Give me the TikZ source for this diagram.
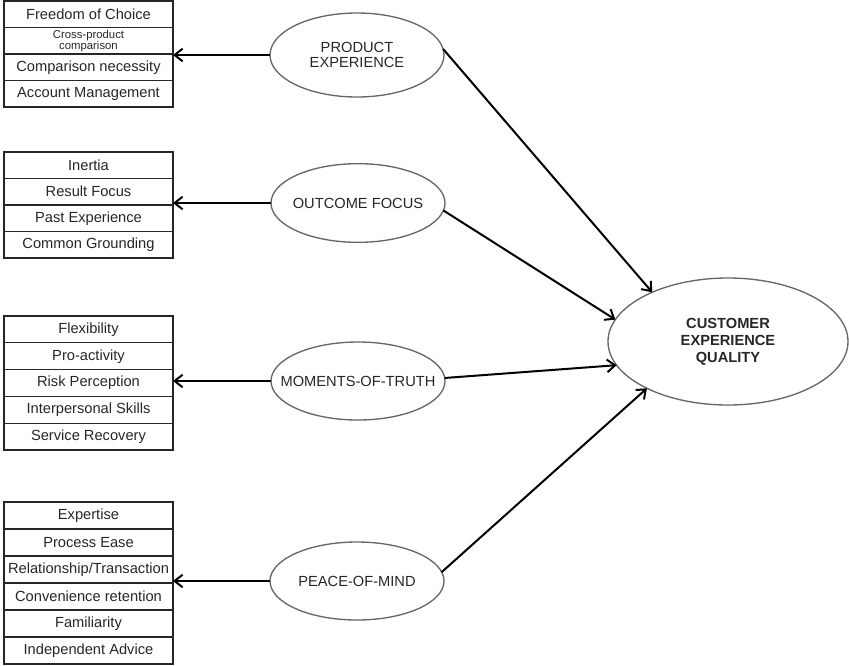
\documentclass[tikz,border=0pt]{standalone}
\usepackage{fontspec}
\setmainfont{Liberation Sans}
\usetikzlibrary{shapes.geometric,arrows.meta}

\begin{document}
\begin{tikzpicture}[x=0.75pt, y=-0.75pt,
  item/.style={draw=black!85, line width=1pt, rectangle, minimum width=126.75pt, minimum height=19.875pt, inner sep=0pt, outer sep=0pt, align=center, text=black!85, font=\fontsize{11}{12}\selectfont},
  factor/.style={draw=black!60, line width=1pt, ellipse, minimum width=130.5pt, minimum height=59pt, inner sep=0pt, outer sep=0pt},
  ftext/.style={align=center, text=black!85, font=\fontsize{11}{11.5}\selectfont},
  link/.style={-{Straight Barb[length=6pt,width=9.5pt]}, line width=1.5pt}]
\useasboundingbox (0,0) rectangle (849,665);
% left boxes
\node[item] (pe1) at (88.5, 14.25){Freedom of Choice};
\node[item, font=\fontsize{8.5}{8}\selectfont] (pe2) at (88.5, 40.75){Cross-product\\comparison};
\node[item] (pe3) at (88.5, 67.25){Comparison necessity};
\node[item] (pe4) at (88.5, 93.75){Account Management};
\node[item] (of1) at (88.5, 165.25){Inertia};
\node[item] (of2) at (88.5, 191.75){Result Focus};
\node[item] (of3) at (88.5, 218.25){Past Experience};
\node[item] (of4) at (88.5, 244.75){Common Grounding};
\node[item, minimum height=20.1pt] (mt1) at (88.5, 329.4){Flexibility};
\node[item, minimum height=20.1pt] (mt2) at (88.5, 356.2){Pro-activity};
\node[item, minimum height=20.1pt] (mt3) at (88.5, 383.0){Risk Perception};
\node[item, minimum height=20.1pt] (mt4) at (88.5, 409.8){Interpersonal Skills};
\node[item, minimum height=20.1pt] (mt5) at (88.5, 436.6){Service Recovery};
\node[item, minimum height=20.25pt] (pm1) at (88.5, 515.5){Expertise};
\node[item, minimum height=20.25pt] (pm2) at (88.5, 542.5){Process Ease};
\node[item, minimum height=20.25pt] (pm3) at (88.5, 569.5){Relationship/Transaction};
\node[item, minimum height=20.25pt] (pm4) at (88.5, 596.5){Convenience retention};
\node[item, minimum height=20.25pt] (pm5) at (88.5, 623.5){Familiarity};
\node[item, minimum height=20.25pt] (pm6) at (88.5, 650.5){Independent Advice};
% dimensions
\node[factor, minimum height=63pt, label={[ftext]center:PRODUCT\\EXPERIENCE}] (prodexp) at (357, 55){};
\node[factor, label={[ftext]center:OUTCOME FOCUS}] (outfocus) at (358, 203){};
\node[factor, minimum height=58.5pt, label={[ftext]center:MOMENTS-OF-TRUTH}] (moments) at (358, 381){};
\node[factor, minimum height=58.5pt, label={[ftext]center:PEACE-OF-MIND}] (peace) at (357, 581){};
\node[factor, minimum width=180pt, minimum height=95.25pt, label={[ftext, font=\fontsize{11}{12.75}\selectfont\bfseries]center:CUSTOMER\\EXPERIENCE\\QUALITY}] (cxq) at (728, 341.5){};
% arrows
\draw[link] (prodexp.west) -- (prodexp.west -| pe2.east);
\draw[link] (outfocus.west) -- (outfocus.west -| of2.east);
\draw[link] (moments.west) -- (moments.west -| mt3.east);
\draw[link] (peace.west) -- (peace.west -| pm3.east);
\draw[link] (prodexp.4) -- (cxq.147);
\draw[link] (outfocus.-5) -- (cxq.169);
\draw[link] (moments.2) -- (cxq.192);
\draw[link] (peace.6) -- (cxq.210);
\end{tikzpicture}
\end{document}
